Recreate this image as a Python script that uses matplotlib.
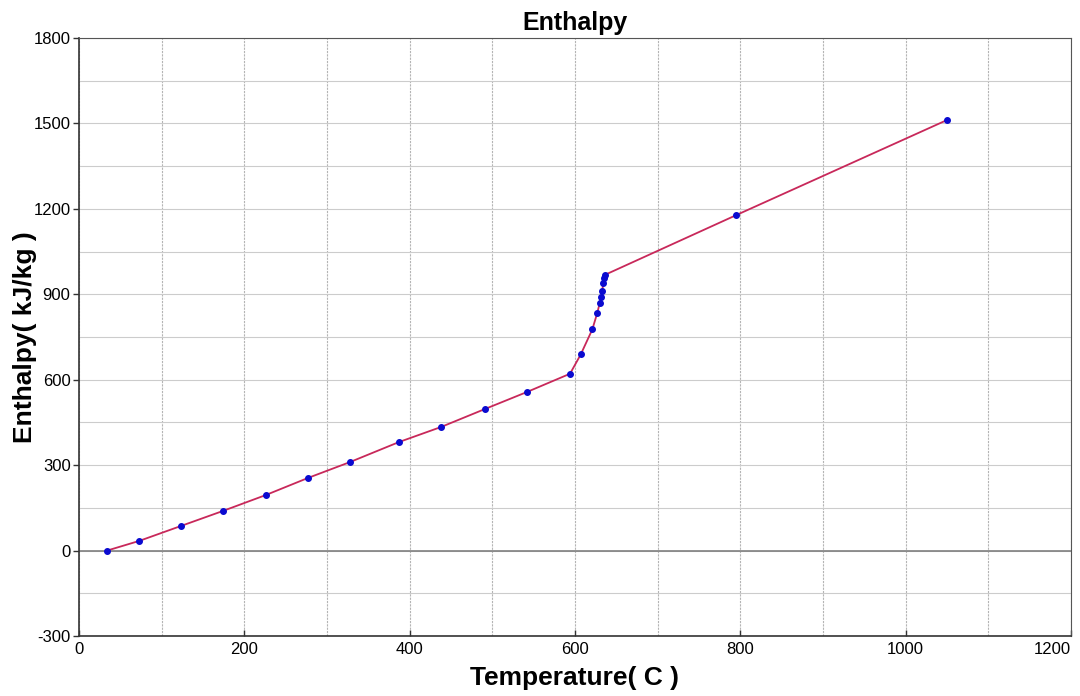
import matplotlib.pyplot as plt

plt.rcParams["font.family"] = ["Liberation Sans", "DejaVu Sans"]
plt.rcParams["axes.unicode_minus"] = False

# values
temperature = [34, 73, 123, 174, 226, 277, 328, 387, 438, 491, 542, 594,
               607, 621, 627, 630, 632, 633, 634, 635, 636, 795, 1050]
enthalpy = [0, 34, 86, 139, 195, 255, 311, 381, 434, 497, 557, 621,
            689, 777, 835, 870, 889, 910, 938, 956, 968, 1178, 1512]

x_ticks = [0, 200, 400, 600, 800, 1000, 1200]
y_ticks = [-300, 0, 300, 600, 900, 1200, 1500, 1800]

fig = plt.figure(figsize=(10.8, 6.96), dpi=100)
ax = fig.add_axes([0.0731, 0.0862, 0.9186, 0.8592])

ax.set_xlim(0, 1200)
ax.set_ylim(-300, 1800)
ax.set_xticks(x_ticks)
ax.set_yticks(y_ticks)
ax.set_xticks(range(0, 1201, 100), minor=True)
ax.set_yticks(range(-300, 1801, 150), minor=True)
ax.grid(True, which="both", axis="y", color="#cccccc", linewidth=0.8)
ax.grid(True, which="both", axis="x", color="#b4b4b4", linewidth=0.8,
        linestyle=(0, (2, 1)))
ax.tick_params(which="minor", length=0)
ax.tick_params(axis="y", which="major", length=4, width=1, color="#333333",
               labelsize=12, pad=2)
ax.tick_params(axis="x", which="major", direction="in", length=4, width=1,
               color="#333333", labelsize=12, pad=4)
ax.get_xticklabels()[-1].set_ha("right")
ax.set_axisbelow(True)

for side in ["top", "right"]:
    ax.spines[side].set_linestyle((0, (1, 1)))
    ax.spines[side].set_color("#555555")
for side in ["left", "bottom"]:
    ax.spines[side].set_color("#333333")
    ax.spines[side].set_linewidth(1.2)

ax.axhline(0, color="#808080", linewidth=1.2, zorder=1)

ax.plot(temperature, enthalpy, color="#c8285a", linewidth=1.3, zorder=2)
ax.plot(temperature, enthalpy, "o", color="#0a0ad0", markersize=4, zorder=3)

ax.set_title("Enthalpy", fontsize=18, fontweight="bold", pad=6)
ax.set_xlabel("Temperature( C )", fontsize=19, fontweight="bold", labelpad=7)
ax.set_ylabel("Enthalpy( kJ/kg )", fontsize=19, fontweight="bold")
ax.yaxis.set_label_coords(-0.042, 0.5)

fig.savefig("out.png", dpi=100)
